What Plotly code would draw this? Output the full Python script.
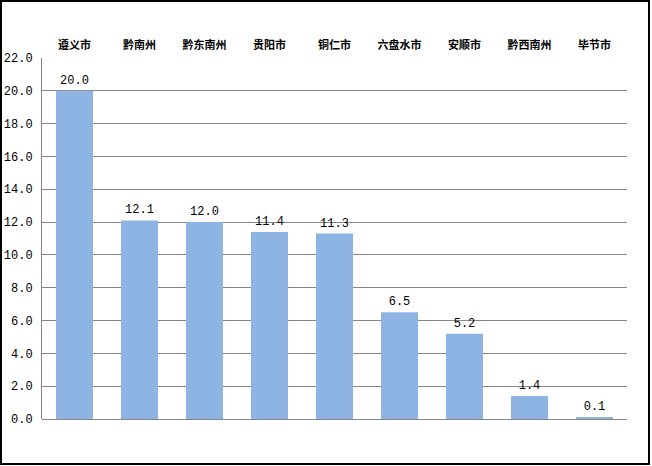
import plotly.graph_objects as go

categories = ["遵义市", "黔南州", "黔东南州", "贵阳市", "铜仁市", "六盘水市", "安顺市", "黔西南州", "毕节市"]
values = [20.0, 12.1, 12.0, 11.4, 11.3, 6.5, 5.2, 1.4, 0.1]
y_ticks = [0, 2, 4, 6, 8, 10, 12, 14, 16, 18, 20, 22]

W, H = 652, 466
L, R, T, B = 42, 25, 58, 47
pw, ph = W - L - R, H - T - B

fig = go.Figure()
fig.add_trace(go.Bar(
    x=categories, y=values,
    marker=dict(color="#8EB4E3", line=dict(width=0)),
    text=[f"{v:.1f}" for v in values],
    textposition="outside",
    cliponaxis=False,
    textfont=dict(family="Liberation Mono, DejaVu Sans Mono, monospace", size=12, color="#000000"),
    width=0.57,
))

fig.update_layout(
    template="none",
    width=W, height=H,
    margin=dict(l=L, r=R, t=T, b=B, pad=0, autoexpand=False),
    paper_bgcolor="white", plot_bgcolor="white",
    showlegend=False,
    xaxis=dict(side="top", showgrid=False, showline=False, ticks="", automargin=False,
               tickvals=categories, ticktext=[f"<b>{c}</b>" for c in categories],
               tickfont=dict(family="Noto Sans CJK SC", size=11, color="#000000"),
               ticklabelstandoff=6),
    yaxis=dict(range=[0, 22], tickvals=y_ticks, ticktext=[f"{v:.1f}" for v in y_ticks],
               automargin=False,
               showgrid=True, gridcolor="#868686", gridwidth=1,
               zeroline=True, zerolinecolor="#868686", zerolinewidth=1,
               showline=True, linecolor="#868686", linewidth=1,
               ticks="", ticklabelstandoff=6,
               tickfont=dict(family="Liberation Mono, DejaVu Sans Mono, monospace", size=12, color="#000000")),
    font=dict(family="Noto Sans CJK SC"),
    shapes=[dict(type="rect", xref="paper", yref="paper",
                 x0=(1 - L) / pw, x1=(649 - L) / pw,
                 y0=(H - B - 464) / ph, y1=(H - B - 1) / ph,
                 line=dict(color="#000000", width=2), fillcolor="rgba(0,0,0,0)")],
)

fig.write_html("out.html", config={"displayModeBar": False},
               post_script="document.body.style.margin='0';document.body.style.overflow='hidden';")
